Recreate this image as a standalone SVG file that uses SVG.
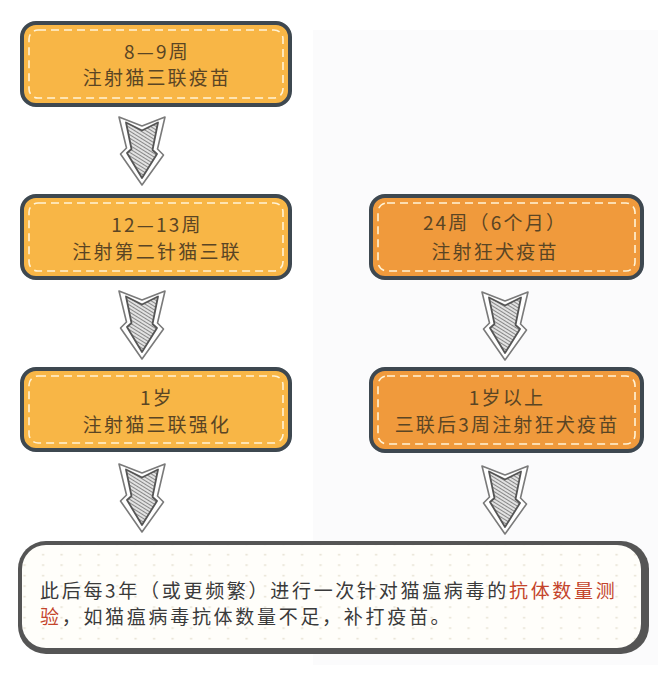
<svg xmlns="http://www.w3.org/2000/svg" width="672" height="678" viewBox="0 0 672 678">
<style>
.box{stroke:#3e4850;stroke-width:4}
.yel{fill:#F8B646}
.org{fill:#F09A3C}
.dash{fill:none;stroke:#fff3d6;stroke-width:1.6;stroke-dasharray:8 5}
.t{font-family:"Noto Sans CJK SC","Noto Sans",sans-serif;font-size:19px;letter-spacing:2.2px;fill:#5a4524;text-anchor:middle}
.b{font-family:"Noto Sans CJK SC","Noto Sans",sans-serif;font-size:19px;letter-spacing:2.7px;fill:#3a3a3a}
.red{fill:#c4442b}
</style>
<defs>
<pattern id="hatch" width="3" height="3" patternUnits="userSpaceOnUse" patternTransform="rotate(32)">
<rect width="3" height="3" fill="#e2e2e2"/>
<line x1="0" y1="0.5" x2="3" y2="0.5" stroke="#707070" stroke-width="0.8"/>
</pattern>
<pattern id="dots" x="34" y="550" width="18.5" height="10.5" patternUnits="userSpaceOnUse">
<rect x="8" y="4" width="2.2" height="1.3" fill="#e2dccb"/>
</pattern>
<g id="arrow">
<path d="M-23,0 L0,9 L23,0 L15.5,32 L21.5,38 L0,68 L-21.5,37 L-15.5,31 Z" fill="#fff" stroke="#7a7a7a" stroke-width="1.6" stroke-linejoin="round"/>
<path d="M-16,5.5 L0,13.5 L16,5.5 L10.5,33 L15,37 L0,61 L-15,36 L-10.5,32 Z" fill="url(#hatch)" stroke="#555" stroke-width="1.8" stroke-linejoin="round"/>
</g>
</defs>
<rect width="672" height="678" fill="#fff"/>
<rect x="313" y="30" width="345" height="635" fill="#fbfbfc"/>

<g id="connectors">
<use href="#arrow" x="142" y="117"/>
<use href="#arrow" x="142" y="291"/>
<use href="#arrow" x="142" y="464"/>
<use href="#arrow" x="505" y="292"/>
<use href="#arrow" x="505" y="466"/>
</g>

<g id="n1">
<rect class="box yel" x="22" y="23" width="268" height="82" rx="14"/>
<rect class="dash" x="29" y="30" width="254" height="68" rx="9"/>
<text class="t" x="157" y="59">8—9周</text>
<text class="t" x="157" y="85">注射猫三联疫苗</text>
</g>
<g id="n2">
<rect class="box yel" x="22" y="196" width="268" height="82" rx="14"/>
<rect class="dash" x="29" y="203" width="254" height="68" rx="9"/>
<text class="t" x="157" y="232">12—13周</text>
<text class="t" x="157" y="259">注射第二针猫三联</text>
</g>
<g id="n3">
<rect class="box yel" x="22" y="369" width="268" height="81" rx="14"/>
<rect class="dash" x="29" y="376" width="254" height="67" rx="9"/>
<text class="t" x="157" y="405">1岁</text>
<text class="t" x="157" y="432">注射猫三联强化</text>
</g>
<g id="n4">
<rect class="box org" x="371" y="196" width="271" height="82" rx="14"/>
<rect class="dash" x="378" y="203" width="257" height="68" rx="9"/>
<text class="t" x="495" y="230">24周（6个月）</text>
<text class="t" x="495" y="259">注射狂犬疫苗</text>
</g>
<g id="n5">
<rect class="box org" x="371" y="369" width="271" height="82" rx="14"/>
<rect class="dash" x="378" y="376" width="257" height="68" rx="9"/>
<text class="t" x="507" y="405">1岁以上</text>
<text class="t" x="507" y="432">三联后3周注射狂犬疫苗</text>
</g>
<g id="n6">
<rect x="18" y="541" width="631" height="113" rx="28" fill="#555"/>
<rect x="22" y="545" width="619" height="103" rx="24" fill="#fffefa"/>
<rect x="22" y="545" width="619" height="103" rx="24" fill="url(#dots)"/>
<text class="b" x="40" y="598">此后每3年（或更频繁）进行一次针对猫瘟病毒的<tspan class="red">抗体数量测</tspan></text>
<text class="b" x="40" y="624"><tspan class="red">验</tspan>，如猫瘟病毒抗体数量不足，补打疫苗。</text>
</g>
</svg>
